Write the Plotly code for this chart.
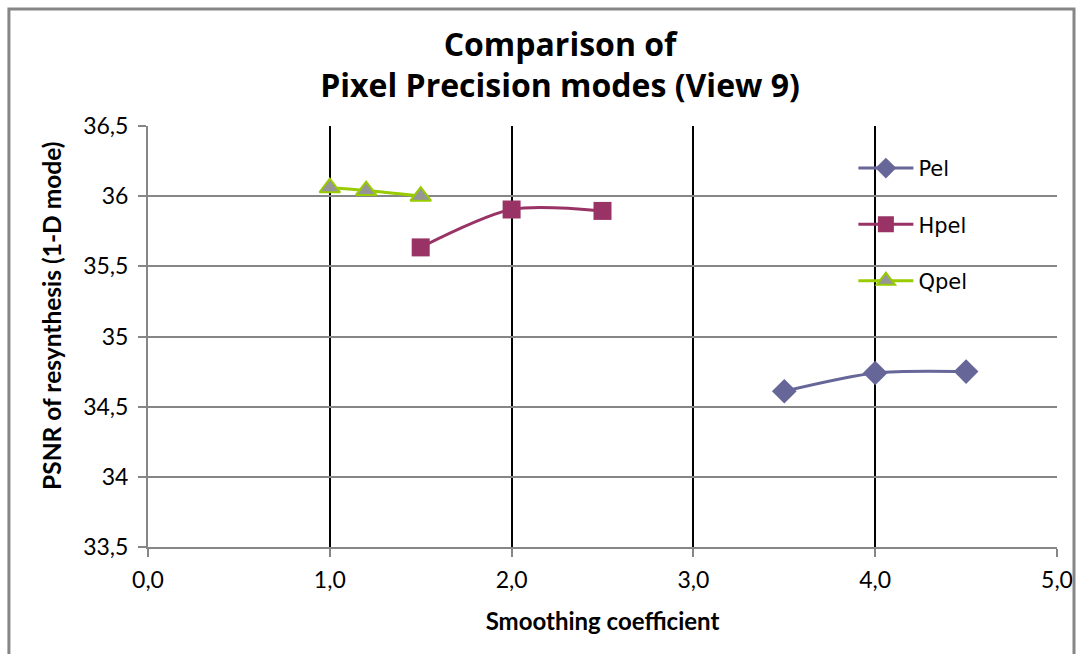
import plotly.graph_objects as go

# Smoothing coefficient vs. PSNR of resynthesis for each pixel precision mode
pel_x = [3.5, 4.0, 4.5]
pel_y = [34.61, 34.74, 34.75]

hpel_x = [1.5, 2.0, 2.5]
hpel_y = [35.635, 35.905, 35.895]

qpel_x = [1.0, 1.2, 1.5]
qpel_y = [36.06, 36.04, 36.0]

x_ticks = [0, 1, 2, 3, 4, 5]
y_ticks = [33.5, 34, 34.5, 35, 35.5, 36, 36.5]

TICK_FONT = dict(family="Lato, Open Sans, sans-serif", size=23, color="#000000")
X_TITLE_FONT = dict(family="Lato, Open Sans, sans-serif", size=24, color="#000000")
Y_TITLE_FONT = dict(family="Lato, Open Sans, sans-serif", size=24.5, color="#000000")

fig = go.Figure()

fig.add_trace(go.Scatter(
    x=pel_x, y=pel_y, name="Pel", mode="lines+markers",
    line=dict(color="#666699", width=3, shape="spline", smoothing=0.8),
    marker=dict(symbol="diamond", size=19, color="#666699"),
    legendgroup="pel",
))
fig.add_trace(go.Scatter(
    x=hpel_x, y=hpel_y, name="Hpel", mode="lines+markers",
    line=dict(color="#993366", width=3, shape="spline", smoothing=0.8),
    marker=dict(symbol="square", size=18, color="#993366"),
    legendgroup="hpel",
))
fig.add_trace(go.Scatter(
    x=qpel_x, y=qpel_y, name="Qpel", mode="lines+markers",
    line=dict(color="#99CC00", width=3, shape="spline", smoothing=0.8),
    marker=dict(symbol="triangle-up", size=18, color="#969696",
                line=dict(color="#99CC00", width=2)),
    legendgroup="qpel",
))

fig.update_layout(
    width=1077, height=654,
    margin=dict(l=148, r=20, t=126, b=107, autoexpand=False),
    paper_bgcolor="white", plot_bgcolor="white",
    separators=",.",
    title=dict(
        text="Comparison of<br>Pixel Precision modes (View 9)",
        x=0.52, xanchor="center", y=0.915, yanchor="top",
        font=dict(family="Open Sans, sans-serif", size=32, color="#000000", weight="bold"),
    ),
    showlegend=True,
    legend=dict(
        x=0.776, y=0.948, xanchor="left", yanchor="top",
        bgcolor="rgba(0,0,0,0)", borderwidth=0,
        font=dict(family="DejaVu Sans, sans-serif", size=21, color="#000000"),
        tracegroupgap=26, itemwidth=55,
    ),
    xaxis=dict(
        range=[0, 5], tickvals=x_ticks, tickformat=".1f",
        showgrid=True, gridcolor="#000000", gridwidth=2,
        showline=True, linecolor="#868686", linewidth=2,
        ticks="outside", ticklen=8, tickwidth=2, tickcolor="#868686",
        tickfont=TICK_FONT, zeroline=False, automargin=False,
        ticklabelstandoff=3,
        title=dict(text="<b>Smoothing coefficient</b>", font=X_TITLE_FONT, standoff=22),
    ),
    yaxis=dict(
        range=[33.5, 36.5], tickvals=y_ticks,
        showgrid=True, gridcolor="#868686", gridwidth=2,
        showline=True, linecolor="#868686", linewidth=2,
        ticks="outside", ticklen=8, tickwidth=2, tickcolor="#868686",
        tickfont=TICK_FONT, zeroline=False, automargin=False,
        ticklabelstandoff=5,
    ),
)

# Y-axis title, set slightly above the plot's vertical centre
fig.add_annotation(
    text="<b>PSNR of resynthesis (1-D mode)</b>",
    xref="paper", yref="paper", x=-0.1056, y=0.549,
    xanchor="center", yanchor="middle", textangle=-90,
    showarrow=False, font=Y_TITLE_FONT,
)

# White panel behind the legend, hiding the grid there
fig.add_shape(
    type="rect", xref="paper", yref="paper",
    x0=0.770, x1=0.943, y0=0.575, y1=0.967,
    line=dict(width=0), fillcolor="white", layer="between",
)

# Outer chart frame
fig.add_shape(
    type="rect", xref="paper", yref="paper",
    x0=-0.153, x1=1.0187, y0=-0.28, y1=1.278,
    line=dict(color="#868686", width=3), fillcolor="rgba(0,0,0,0)",
    layer="above",
)

fig.write_html("out.html")
